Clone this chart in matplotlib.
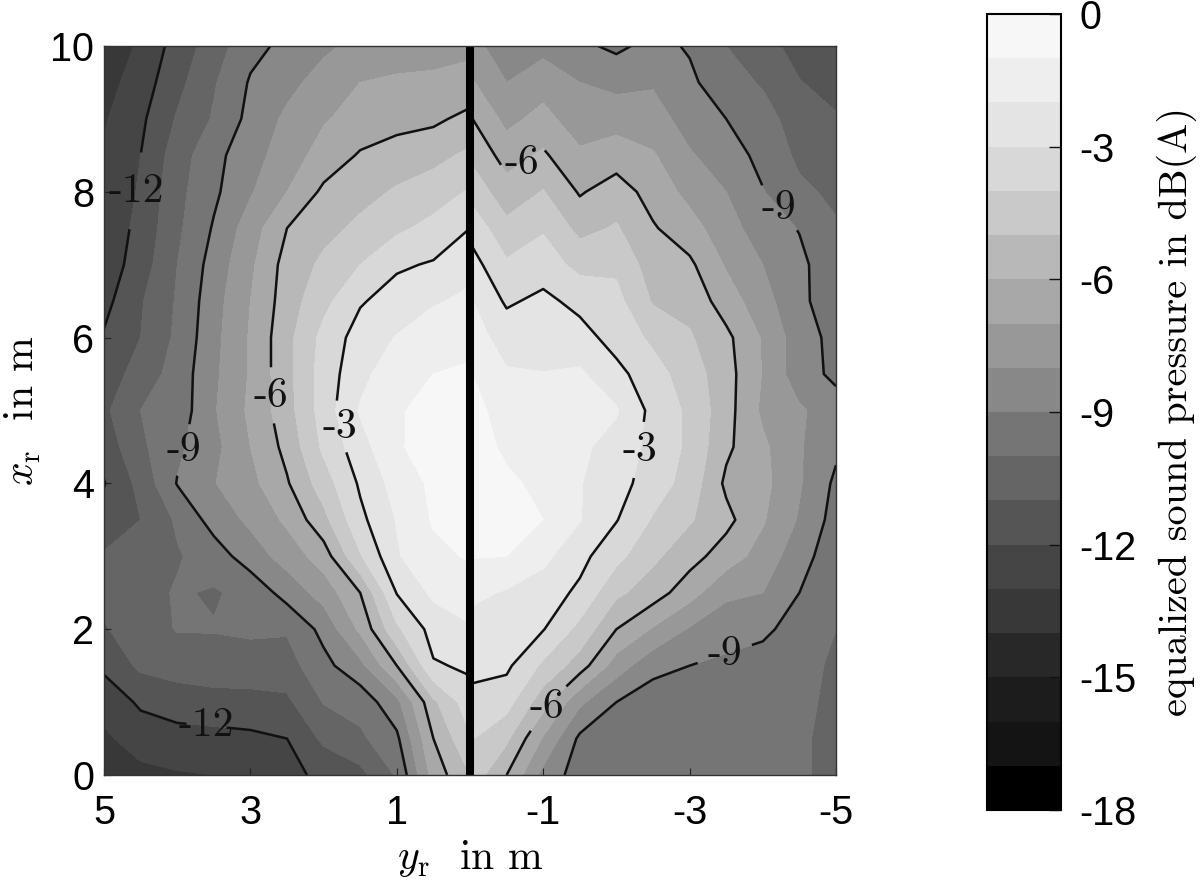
import numpy as np
import matplotlib
matplotlib.use("Agg")
import matplotlib.pyplot as plt
from matplotlib.colors import ListedColormap, BoundaryNorm

plt.rcParams["font.family"] = ["Liberation Sans", "DejaVu Sans"]
plt.rcParams["mathtext.fontset"] = "cm"
plt.rcParams["axes.unicode_minus"] = False
plt.rcParams["contour.negative_linestyle"] = "solid"

# receiver grid in m
x_r = [0, 0.5, 1, 1.5, 2, 2.5, 3, 3.5, 4, 4.5, 5, 5.5, 6, 6.5, 7, 7.5, 8, 8.5, 9, 9.5, 10]
y_left = [0, 0.5, 1, 1.5, 2, 2.5, 3, 3.5, 4, 4.5, 5]
y_right = [0, -0.5, -1, -1.5, -2, -2.5, -3, -3.5, -4, -4.5, -5]

# left half: one line per x_r, values for y_left
spl_left = [
    [-5.0, -6.6, -9.9, -11.3, -11.75, -12.3, -12.7, -13.0, -13.1, -13.3, -13.4],
    [-4.1, -6.0, -9.2, -10.2, -10.8, -12.0, -12.2, -12.3, -12.3, -12.5, -13.2],
    [-3.4, -5.2, -8.3, -9.6, -9.95, -11.2, -11.35, -11.4, -11.6, -11.85, -12.6],
    [-2.85, -3.1, -6.0, -8.3, -9.3, -10.4, -10.4, -10.4, -10.5, -10.8, -11.8],
    [-2.1, -2.6, -4.2, -6.8, -8.7, -9.9, -9.85, -9.95, -9.95, -10.4, -11.1],
    [-1.5, -1.8, -2.95, -6.0, -7.6, -8.6, -9.7, -10.1, -9.9, -10.4, -10.7],
    [-0.9, -1.25, -2.1, -4.1, -6.5, -7.6, -8.5, -9.5, -10.1, -10.5, -10.9],
    [-0.6, -0.9, -1.95, -3.25, -5.3, -6.8, -7.8, -8.6, -9.85, -11.0, -11.6],
    [-0.5, -0.8, -1.6, -2.85, -4.5, -6.1, -7.3, -8.05, -8.95, -10.7, -12.05],
    [-0.4, -0.65, -1.1, -2.4, -3.8, -5.7, -7.0, -8.3, -9.2, -10.2, -11.6],
    [-0.5, -0.7, -1.1, -1.9, -3.55, -5.4, -6.8, -8.1, -9.6, -10.0, -11.2],
    [-0.85, -1.0, -1.35, -2.3, -3.55, -5.3, -6.9, -8.2, -9.6, -10.55, -11.6],
    [-1.3, -1.45, -1.95, -2.55, -3.7, -5.3, -6.9, -8.3, -9.8, -11.0, -11.9],
    [-1.8, -2.1, -2.55, -3.1, -4.3, -5.5, -7.0, -8.4, -9.9, -11.1, -12.3],
    [-2.3, -2.9, -3.15, -4.0, -4.8, -5.6, -7.2, -8.6, -10.0, -11.5, -12.6],
    [-3.0, -3.7, -4.2, -4.8, -5.3, -6.0, -7.5, -8.9, -10.2, -11.7, -12.7],
    [-3.9, -4.5, -4.9, -5.3, -5.8, -7.0, -8.1, -9.2, -10.3, -11.85, -13.0],
    [-4.8, -5.3, -5.5, -5.9, -6.6, -7.5, -8.4, -9.3, -10.5, -12.0, -12.9],
    [-5.7, -6.2, -6.4, -6.6, -7.1, -7.8, -8.7, -9.9, -10.9, -12.2, -13.1],
    [-6.7, -6.8, -6.85, -7.0, -7.6, -8.3, -8.9, -10.1, -11.3, -12.5, -13.4],
    [-7.2, -7.4, -7.5, -7.7, -8.2, -8.75, -9.3, -10.5, -11.6, -12.8, -13.9],
]

# right half: one line per y_right, values for x_r
spl_right = [
    [-4.3, -3.9, -3.3, -2.7, -2.4, -1.75, -0.95, -0.7, -0.6, -0.6, -0.7, -0.95, -1.55, -1.9, -2.55, -3.3, -4.3, -5.15, -5.9, -6.85, -7.6],
    [-6.0, -4.8, -3.6, -2.8, -2.3, -2.1, -1.0, -0.85, -0.85, -1.15, -1.35, -1.9, -2.4, -3.15, -3.85, -4.7, -5.6, -6.4, -7.3, -8.0, -8.6],
    [-8.3, -7.1, -5.6, -4.2, -2.95, -2.5, -1.75, -1.0, -1.2, -1.4, -1.7, -1.98, -2.3, -2.75, -3.5, -4.1, -4.95, -5.85, -6.65, -7.45, -8.3],
    [-9.5, -9.2, -7.8, -5.5, -4.3, -3.2, -2.7, -1.95, -1.95, -1.8, -1.6, -1.85, -2.6, -3.3, -4.3, -5.3, -6.1, -6.8, -7.6, -8.0, -8.8],
    [-9.7, -9.6, -9.0, -7.5, -6.0, -4.8, -3.7, -2.95, -2.6, -2.4, -1.9, -2.7, -3.4, -3.7, -4.2, -4.9, -5.5, -6.5, -7.4, -8.3, -9.2],
    [-9.7, -9.7, -9.5, -8.7, -7.1, -5.5, -4.8, -4.1, -3.5, -3.3, -3.3, -3.6, -4.2, -5.1, -5.5, -5.9, -6.4, -6.9, -7.6, -8.1, -8.7],
    [-9.7, -9.7, -9.6, -9.0, -8.1, -6.6, -5.6, -4.9, -4.4, -4.2, -4.2, -4.5, -4.9, -5.3, -5.8, -6.6, -7.3, -7.9, -8.4, -8.8, -9.1],
    [-9.7, -9.7, -9.6, -9.2, -8.6, -7.8, -6.5, -5.7, -6.2, -5.8, -5.6, -5.6, -5.75, -6.5, -7.1, -7.6, -8.0, -8.5, -9.0, -9.6, -10.0],
    [-9.7, -9.7, -9.6, -9.4, -8.8, -8.0, -7.4, -6.9, -6.7, -6.8, -7.2, -7.05, -7.1, -7.6, -8.0, -8.5, -8.95, -9.3, -9.6, -10.1, -10.6],
    [-9.9, -9.9, -9.8, -9.6, -9.4, -9.0, -8.6, -8.1, -7.9, -7.9, -7.85, -8.6, -8.55, -8.8, -8.75, -9.05, -9.8, -10.2, -10.5, -10.95, -11.4],
    [-10.2, -10.2, -10.2, -10.2, -10.0, -10.0, -9.6, -9.4, -9.2, -8.8, -8.6, -9.2, -9.3, -9.5, -9.7, -9.9, -10.2, -10.6, -10.9, -11.4, -11.9],
]

levels = list(range(-18, 1))
line_levels = [-12, -9, -6, -3]
# band greys from the colour bar, darkest first
band_grays = [0x00, 0x14, 0x1c, 0x28, 0x38, 0x45, 0x55, 0x65, 0x75, 0x88, 0x98, 0xa8, 0xb8, 0xc9, 0xd8, 0xe4, 0xee, 0xf7]

xticks = [5, 3, 1, -1, -3, -5]
yticks = [0, 2, 4, 6, 8, 10]
cbar_ticks = [0, -3, -6, -9, -12, -15, -18]

# label spots on the contour lines (y_r, x_r)
labels_left = [(4.55, 8.0), (3.6, 0.63), (3.95, 4.5), (2.75, 5.2), (1.75, 4.8)]
labels_right = [(-0.7, 8.4), (-2.35, 4.45), (-4.25, 7.8), (-3.5, 1.6), (-0.95, 1.0)]

cmap = ListedColormap([str(g / 255) for g in band_grays])
norm = BoundaryNorm(levels, cmap.N)

fig = plt.figure(figsize=(12, 8.8), dpi=100)
ax = fig.add_axes([104 / 1200, 1 - 775 / 880, 732 / 1200, 729 / 880])
cax = fig.add_axes([987 / 1200, 1 - 810 / 880, 74 / 1200, 796 / 880])

z_right = np.array(spl_right).T
cf = None
for yy, zz, spots in [(y_left, np.array(spl_left), labels_left), (y_right, z_right, labels_right)]:
    cf = ax.contourf(yy, x_r, zz, levels=levels, cmap=cmap, norm=norm)
    cl = ax.contour(yy, x_r, zz, levels=line_levels, colors="#111111", linewidths=1.8)
    texts = ax.clabel(cl, fmt="%d", manual=spots, fontsize=30, inline=True, inline_spacing=10)
    for t in texts:
        t.set_family("cmr10")
        t.set_rotation(0)

ax.axvline(0, color="black", linewidth=5.8)
ax.set_xlim(5, -5)
ax.set_ylim(0, 10)
ax.set_xticks(xticks)
ax.set_yticks(yticks)
ax.set_xticklabels([str(t) for t in xticks])
ax.set_yticklabels([str(t) for t in yticks])
ax.tick_params(direction="in", length=5, width=0.8, labelsize=28.5, color="#222222", pad=7)
ax.tick_params(axis="x", pad=14)
ax.set_xlabel(r"$y_\mathrm{r}$  in m", fontsize=30, family="cmr10", labelpad=4)
ax.set_ylabel(r"$x_\mathrm{r}$  in m", fontsize=30, family="cmr10", labelpad=5)
for s in ax.spines.values():
    s.set_linewidth(1.0)
    s.set_color("#333333")

cb = fig.colorbar(cf, cax=cax, ticks=cbar_ticks, spacing="proportional")
cb.ax.minorticks_off()
cb.ax.set_yticklabels([str(t) for t in cbar_ticks])
cb.ax.tick_params(direction="in", length=9, width=1, labelsize=28.5, pad=13, color="#111111")
cb.outline.set_linewidth(1.5)
cb.set_label("equalized sound pressure in dB(A)", fontsize=29, family="cmr10", labelpad=15)

fig.savefig("out.png", dpi=100)
